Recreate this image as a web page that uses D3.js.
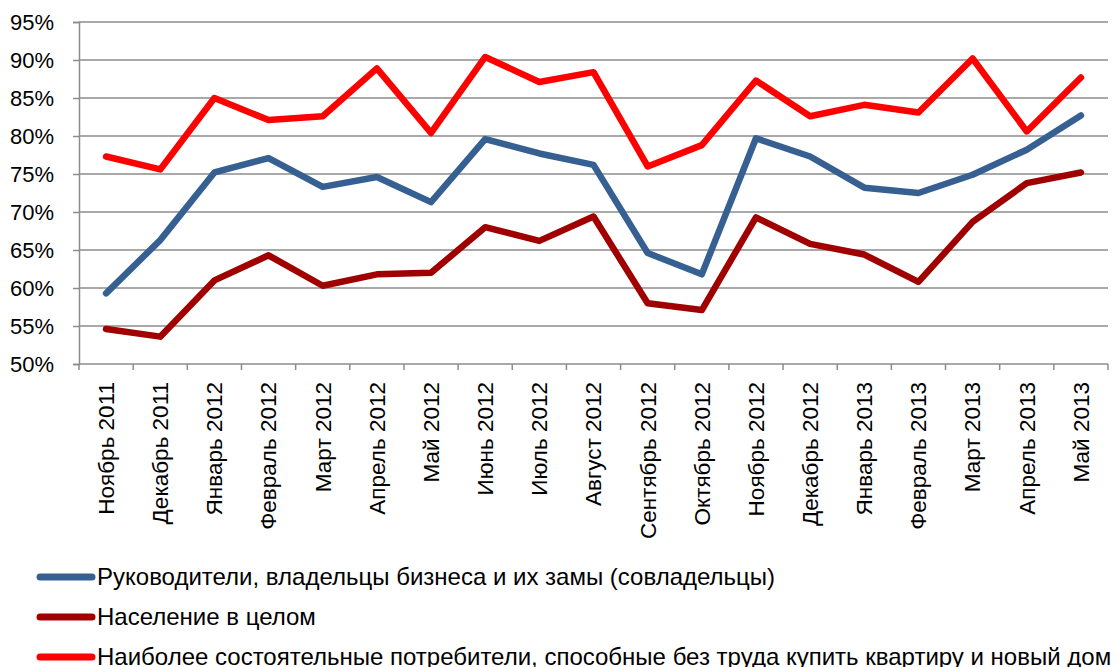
<!DOCTYPE html>
<html>
<head>
<meta charset="utf-8">
<script src="https://cdn.jsdelivr.net/npm/d3@7"></script>
<style>
    body { margin: 0; background: #fff; }
    svg { display: block; font-family: "Liberation Sans", Arial, sans-serif; }
</style>
</head>
<body>
<svg id="chart" width="1118" height="667"></svg>
<script>
var months = ["Ноябрь 2011", "Декабрь 2011", "Январь 2012", "Февраль 2012", "Март 2012",
    "Апрель 2012", "Май 2012", "Июнь 2012", "Июль 2012", "Август 2012", "Сентябрь 2012",
    "Октябрь 2012", "Ноябрь 2012", "Декабрь 2012", "Январь 2013", "Февраль 2013",
    "Март 2013", "Апрель 2013", "Май 2013"];

var managers = [59.3, 66.3, 75.2, 77.1, 73.3, 74.6, 71.3, 79.6, 77.7, 76.2, 64.6, 61.8,
    79.7, 77.3, 73.2, 72.5, 74.9, 78.2, 82.7];
var population = [54.6, 53.6, 61.0, 64.3, 60.3, 61.8, 62.0, 68.0, 66.2, 69.4, 58.0, 57.1,
    69.3, 65.8, 64.4, 60.8, 68.7, 73.8, 75.2];
var wealthy = [77.3, 75.6, 85.0, 82.1, 82.6, 88.9, 80.4, 90.4, 87.1, 88.4, 76.0, 78.8,
    87.3, 82.6, 84.1, 83.1, 90.2, 80.6, 87.7];

var seriesNames = ["Руководители, владельцы бизнеса и их замы (совладельцы)",
    "Население в целом",
    "Наиболее состоятельные потребители, способные без труда купить квартиру и новый дом"];
var yTicks = [50, 55, 60, 65, 70, 75, 80, 85, 90, 95];

(function() {
    var series = [
        { name: seriesNames[0], values: managers, color: "#376092" },
        { name: seriesNames[1], values: population, color: "#A00000" },
        { name: seriesNames[2], values: wealthy, color: "#FF0000" }
    ];

    var svg = d3.select("#chart");
    var mLeft = 79, mRight = 1108, mTop = 22, mBottom = 364;
    var grey = "#8c8c8c";

    var x = d3.scaleBand().domain(months).range([mLeft, mRight]);
    var y = d3.scaleLinear().domain([50, 95]).range([mBottom, mTop]);

    // gridlines
    svg.append("g").selectAll("line")
        .data(yTicks.slice(1))
        .enter().append("line")
        .attr("x1", mLeft).attr("x2", mRight)
        .attr("y1", function(d) { return y(d); })
        .attr("y2", function(d) { return y(d); })
        .attr("stroke", grey)
        .attr("stroke-width", 1.5);

    // y axis
    var yAxis = svg.append("g")
        .attr("transform", "translate(" + mLeft + ",0)")
        .call(d3.axisLeft(y).tickValues(yTicks).tickSize(6).tickPadding(19)
            .tickFormat(function(d) { return d + "%"; }));
    yAxis.select(".domain").attr("stroke", grey).attr("stroke-width", 1.5);
    yAxis.selectAll(".tick line").attr("stroke", grey).attr("stroke-width", 1.5);
    yAxis.selectAll("text").attr("font-size", "22px").attr("fill", "#000")
        .attr("font-family", "Liberation Sans, Arial, sans-serif");

    // x axis: ticks at category boundaries
    var xAxis = svg.append("g").attr("transform", "translate(0," + mBottom + ")");
    xAxis.append("line")
        .attr("x1", mLeft).attr("x2", mRight).attr("y1", 0).attr("y2", 0)
        .attr("stroke", grey).attr("stroke-width", 1.5);
    xAxis.selectAll(".bt")
        .data(months.concat(["end"]))
        .enter().append("line")
        .attr("x1", function(d, i) { return i < months.length ? x(d) : mRight; })
        .attr("x2", function(d, i) { return i < months.length ? x(d) : mRight; })
        .attr("y1", 0).attr("y2", 6)
        .attr("stroke", grey).attr("stroke-width", 1.5);
    xAxis.selectAll("text")
        .data(months)
        .enter().append("text")
        .attr("transform", function(d) {
            return "translate(" + (x(d) + x.bandwidth() / 2) + ",18) rotate(-90)";
        })
        .attr("text-anchor", "end")
        .attr("dy", "0.35em")
        .attr("font-size", "22.5px")
        .attr("fill", "#000")
        .text(function(d) { return d; });

    // lines
    var line = d3.line()
        .x(function(d, i) { return x(months[i]) + x.bandwidth() / 2; })
        .y(function(d) { return y(d); });

    svg.append("g").selectAll("path")
        .data(series)
        .enter().append("path")
        .attr("d", function(d) { return line(d.values); })
        .attr("fill", "none")
        .attr("stroke", function(d) { return d.color; })
        .attr("stroke-width", 6.5)
        .attr("stroke-linejoin", "round")
        .attr("stroke-linecap", "round");

    // legend
    var legend = svg.append("g").selectAll("g")
        .data(series)
        .enter().append("g")
        .attr("transform", function(d, i) { return "translate(0," + (577 + i * 40) + ")"; });
    legend.append("line")
        .attr("x1", 40).attr("x2", 92).attr("y1", 0).attr("y2", 0)
        .attr("stroke", function(d) { return d.color; })
        .attr("stroke-width", 7)
        .attr("stroke-linecap", "round");
    legend.append("text")
        .attr("x", 97).attr("y", 0).attr("dy", "0.35em")
        .attr("font-size", "24px")
        .attr("fill", "#000")
        .text(function(d) { return d.name; });
})();
</script>
</body>
</html>
